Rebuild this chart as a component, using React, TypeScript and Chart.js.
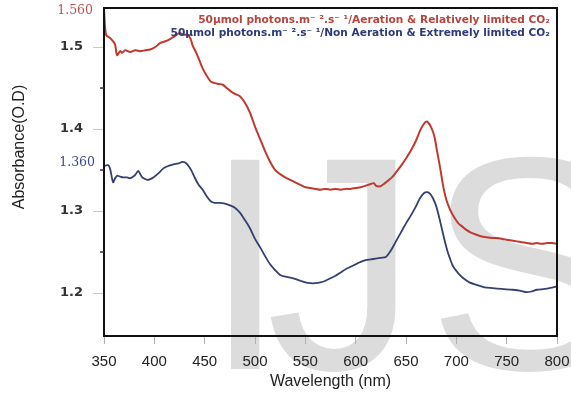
import React, { useEffect, useRef } from "react";
import { Chart, registerables } from "chart.js";

Chart.register(...registerables);

// ---- Data ----
const redWavelengths = [
  350, 352, 356, 359, 361, 363, 366, 368, 371, 376, 381, 386, 391, 396, 401, 406, 411, 416, 420, 425,
  429, 433, 436, 438, 442, 445, 448, 452, 456, 460, 464, 468, 472, 476, 480, 485, 490, 495, 500, 505,
  510, 515, 520, 525, 530, 535, 540, 545, 550, 555, 560, 565, 570, 575, 580, 585, 590, 595, 600, 605,
  610, 615, 618, 620, 624, 628, 632, 636, 640, 645, 650, 655, 660, 664, 667, 670, 672, 675, 678, 681,
  684, 687, 690, 694, 698, 702, 706, 710, 714, 720, 725, 730, 735, 740, 746, 750, 755, 760, 765, 770,
  775, 780, 785, 790, 795, 800,
];
const redAbsorbance = [
  1.546, 1.515, 1.511, 1.507, 1.503, 1.49, 1.495, 1.493, 1.496, 1.494, 1.496, 1.495, 1.496, 1.497, 1.5, 1.505, 1.507, 1.51, 1.513, 1.517,
  1.515, 1.515, 1.51, 1.502, 1.492, 1.483, 1.474, 1.465, 1.458, 1.456, 1.455, 1.454, 1.45, 1.446, 1.443, 1.44, 1.432, 1.42, 1.403, 1.388,
  1.373, 1.36, 1.35, 1.345, 1.341, 1.338, 1.335, 1.332, 1.329, 1.328, 1.327, 1.326, 1.327, 1.326, 1.327, 1.326, 1.327, 1.327, 1.328, 1.329,
  1.331, 1.333, 1.334, 1.331, 1.33, 1.333, 1.337, 1.341, 1.347, 1.355, 1.364, 1.374, 1.386, 1.398, 1.405, 1.409, 1.408, 1.402, 1.392, 1.372,
  1.352, 1.33, 1.314, 1.301, 1.292, 1.285, 1.281, 1.277, 1.274, 1.271, 1.269, 1.268, 1.267, 1.267, 1.266, 1.265, 1.264, 1.263, 1.262, 1.261,
  1.26, 1.261, 1.26, 1.261, 1.261, 1.26,
];

const blueWavelengths = [
  350, 354, 356, 359, 361, 363, 366, 369, 373, 376, 379, 381, 384, 386, 388, 391, 393, 396, 399, 404,
  409, 414, 419, 424, 428, 431, 434, 437, 440, 444, 448, 452, 456, 460, 465, 470, 475, 480, 485, 490,
  495, 500, 505, 510, 515, 520, 525, 530, 538, 545, 550, 555, 560, 565, 570, 575, 580, 585, 590, 595,
  600, 605, 610, 615, 620, 625, 630, 635, 640, 645, 650, 655, 660, 664, 668, 671, 674, 677, 680, 684,
  688, 691, 694, 697, 702, 707, 713, 720, 728, 736, 745, 756, 763, 770, 775, 780, 788, 796, 800,
];
const blueAbsorbance = [
  1.355, 1.356, 1.352, 1.335, 1.34, 1.343, 1.342, 1.341, 1.341, 1.34, 1.342, 1.344, 1.349, 1.345, 1.341, 1.339, 1.338, 1.339, 1.341, 1.346,
  1.352, 1.355, 1.357, 1.358, 1.36, 1.359, 1.355, 1.349, 1.341, 1.332, 1.326, 1.318, 1.312, 1.31, 1.31, 1.309, 1.307, 1.304, 1.298, 1.289,
  1.279, 1.266, 1.256, 1.245, 1.235, 1.228, 1.222, 1.22, 1.218, 1.215, 1.213, 1.212, 1.212, 1.213, 1.215, 1.218, 1.221, 1.225, 1.229, 1.232,
  1.235, 1.238, 1.24, 1.241, 1.242, 1.243, 1.244, 1.252, 1.263, 1.274, 1.285, 1.295, 1.306, 1.316, 1.322, 1.323, 1.321, 1.315, 1.306, 1.287,
  1.266, 1.252, 1.241, 1.232, 1.224, 1.218, 1.213, 1.21, 1.207, 1.206, 1.205, 1.204, 1.203, 1.201, 1.202, 1.204, 1.205, 1.207, 1.208,
];

const yTickValues = [1.2, 1.3, 1.4, 1.5];
const yMinorTickValues = [1.25, 1.35, 1.45];
const redLabel = "50μmol photons.m⁻ ².s⁻ ¹/Aeration & Relatively limited CO₂";
const blueLabel = "50μmol photons.m⁻ ².s⁻ ¹/Non Aeration & Extremely limited CO₂";
const redMarkText = "1.560";
const blueMarkText = "1.360";
const xTitle = "Wavelength (nm)";
const yTitle = "Absorbance(O.D)";
const watermarkLetters = ["I", "J", "S"];

const RED = "#c0392f";
const BLUE = "#34406f";

const decorPlugin = {
  id: "decor",
  beforeDraw(chart: any) {
    const ctx = chart.ctx;
    ctx.save();
    ctx.fillStyle = "#dcdcdc";
    ctx.font = '304px "Liberation Sans", Arial, sans-serif';
    ctx.textBaseline = "alphabetic";
    ctx.textAlign = "left";
    const xs = [203, 266, 427];
    watermarkLetters.forEach((ch, i) => ctx.fillText(ch, xs[i], 369));
    ctx.restore();
  },
  afterDraw(chart: any) {
    const ctx = chart.ctx;
    const { left, right, top, bottom } = chart.chartArea;
    const yScale = chart.scales.y;
    ctx.save();
    // frame
    ctx.strokeStyle = "#111";
    ctx.lineWidth = 2;
    ctx.strokeRect(left, top, right - left, bottom - top);
    // minor ticks
    ctx.lineWidth = 1.5;
    ctx.strokeStyle = "#333";
    yMinorTickValues.forEach((v) => {
      const py = yScale.getPixelForValue(v);
      ctx.beginPath();
      ctx.moveTo(left - 4, py);
      ctx.lineTo(left, py);
      ctx.stroke();
    });
    // axis titles
    ctx.fillStyle = "#222";
    ctx.font = '16px "Liberation Sans", Arial, sans-serif';
    ctx.textAlign = "center";
    ctx.textBaseline = "middle";
    ctx.fillText(xTitle, (left + right) / 2, 382);
    ctx.save();
    ctx.translate(20, 147);
    ctx.rotate(-Math.PI / 2);
    ctx.fillText(yTitle, 0, 0);
    ctx.restore();
    // value marks
    ctx.font = '12.5px "DejaVu Serif", serif';
    ctx.textAlign = "right";
    ctx.fillStyle = "#b8554e";
    ctx.fillText(redMarkText, 93, 11);
    ctx.fillStyle = "#3b4a86";
    ctx.fillText(blueMarkText, 95, 163);
    // legend
    const fitText = (text: string, targetW: number) => {
      ctx.font = 'bold 10px "DejaVu Sans", Verdana, sans-serif';
      const w = ctx.measureText(text).width;
      const size = (10 * targetW) / w;
      ctx.font = `bold ${size.toFixed(2)}px "DejaVu Sans", Verdana, sans-serif`;
    };
    ctx.textAlign = "right";
    ctx.fillStyle = "#b5453c";
    fitText(redLabel, 352);
    ctx.fillText(redLabel, 550, 20);
    ctx.fillStyle = "#2c3a78";
    fitText(blueLabel, 380);
    ctx.fillText(blueLabel, 550, 33);
    ctx.restore();
  },
};

export default function App() {
  const canvasRef = useRef<HTMLCanvasElement | null>(null);

  useEffect(() => {
    if (!canvasRef.current) return;
    const chart = new Chart(canvasRef.current, {
      type: "line",
      data: {
        datasets: [
          {
            label: redLabel,
            data: redWavelengths.map((x, i) => ({ x, y: redAbsorbance[i] })),
            borderColor: RED,
            borderWidth: 2,
            pointRadius: 0,
            tension: 0.3,
            fill: false,
          },
          {
            label: blueLabel,
            data: blueWavelengths.map((x, i) => ({ x, y: blueAbsorbance[i] })),
            borderColor: BLUE,
            borderWidth: 1.8,
            pointRadius: 0,
            tension: 0.3,
            fill: false,
          },
        ],
      },
      options: {
        responsive: false,
        animation: false,
        layout: { padding: { top: 8, right: 14, bottom: 0, left: 0 } },
        plugins: {
          legend: { display: false },
          tooltip: { enabled: false },
          title: { display: false },
        },
        scales: {
          x: {
            type: "linear",
            min: 350,
            max: 800,
            ticks: {
              stepSize: 50,
              color: "#222",
              font: { family: '"Liberation Sans", Arial, sans-serif', size: 15 },
              padding: 9,
              maxRotation: 0,
            },
            grid: {
              drawOnChartArea: false,
              drawTicks: true,
              tickLength: 8,
              tickColor: "#b0b0b0",
            },
            border: { display: true, color: "#111", width: 2 },
            afterFit: (scale: any) => {
              scale.height = 58;
              scale.paddingLeft = 0;
              scale.paddingRight = 0;
            },
          },
          y: {
            type: "linear",
            min: 1.1476,
            max: 1.5476,
            afterBuildTicks: (scale: any) => {
              scale.ticks = yTickValues.map((v) => ({ value: v }));
            },
            ticks: {
              color: "#333",
              font: { family: '"DejaVu Sans", Verdana, sans-serif', size: 13, weight: "bold" },
              padding: 10,
              callback: (v: any) => Number(v).toFixed(1),
            },
            grid: {
              drawOnChartArea: false,
              drawTicks: true,
              tickLength: 11,
              tickColor: "#c8c8c8",
            },
            border: { display: true, color: "#111", width: 2 },
            afterFit: (scale: any) => {
              scale.width = 104;
              scale.paddingTop = 0;
              scale.paddingBottom = 0;
            },
          },
        },
      },
      plugins: [decorPlugin],
    });
    return () => chart.destroy();
  }, []);

  return (
    <div style={{ position: "fixed", left: 0, top: 0, width: 571, height: 394, background: "#fff" }}>
      <canvas ref={canvasRef} width={571} height={394} />
    </div>
  );
}
